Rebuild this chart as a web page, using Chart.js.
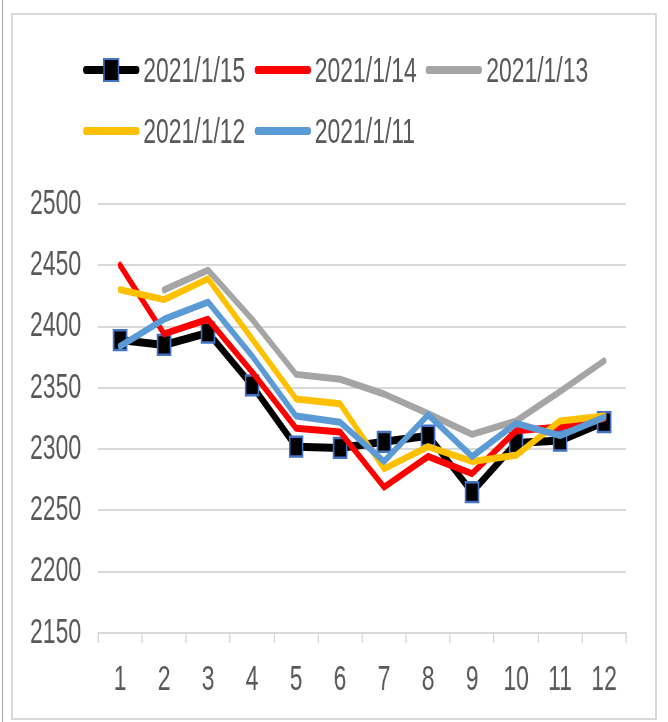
<!DOCTYPE html>
<html>
<head>
<meta charset="utf-8">
<script src="https://cdn.jsdelivr.net/npm/chart.js@4.4.1/dist/chart.umd.min.js"></script>
<style>
  html, body { margin: 0; padding: 0; background: #fff; }
  body { width: 668px; height: 722px; position: relative; overflow: hidden; font-family: "Liberation Sans", Arial, sans-serif; }
  #edge { position: absolute; left: 2px; top: 0; width: 1px; height: 722px; background: #a6a6a6; }
  #frame { position: absolute; left: 11px; top: 13px; width: 642px; height: 703px; border: 2px solid #d9d9d9; overflow: hidden; }
  /* the source picture is squeezed sideways, so the whole chart is drawn wide and scaled down */
  #squeeze { position: absolute; left: 0; top: 0; width: 980px; height: 703px; transform: scaleX(0.655); transform-origin: 0 0; }
  #legend { position: absolute; left: 107px; top: 34px; width: 800px; display: flex; flex-wrap: wrap; row-gap: 19px; }
  #legend .item { display: flex; align-items: center; margin-right: 14px; height: 42px; }
  #legend .swatch { position: relative; display: inline-block; width: 86px; height: 8px; border-radius: 4px; margin-right: 6px; }
  #legend .mark { position: absolute; left: 50%; top: 50%; width: 20px; height: 20px; border: 2px solid; transform: translate(-50%, -50%); }
  #legend .label { font-size: 35px; line-height: 42px; color: #595959; white-space: nowrap; }
  #myChart { position: absolute; left: 0; top: 0; }
</style>
</head>
<body>
<div id="edge"></div>
<div id="frame">
  <div id="squeeze">
    <canvas id="myChart" width="980" height="703"></canvas>
    <div id="legend"></div>
  </div>
</div>
<script>
// data block
const categories = ["1", "2", "3", "4", "5", "6", "7", "8", "9", "10", "11", "12"];
const seriesNames = ["2021/1/15", "2021/1/14", "2021/1/13", "2021/1/12", "2021/1/11"];
const jan15 = [2389, 2385, 2395, 2352, 2302, 2301, 2306, 2311, 2265, 2305, 2307, 2322];
const jan14 = [2450, 2394, 2406, 2363, 2317, 2314, 2269, 2294, 2280, 2315, 2318, 2325];
const jan13 = [null, 2430, 2446, 2406, 2361, 2357, 2345, 2329, 2312, 2323, 2347, 2372];
const jan12 = [2430, 2422, 2439, 2390, 2341, 2337, 2284, 2302, 2290, 2295, 2323, 2327];
const jan11 = [2384, 2406, 2420, 2376, 2327, 2322, 2290, 2328, 2294, 2321, 2311, 2326];
const yTickValues = [2150, 2200, 2250, 2300, 2350, 2400, 2450, 2500];

const textColor = "#595959";
const gridColor = "#d9d9d9";

Chart.defaults.font.family = "'Liberation Sans', Arial, sans-serif";
Chart.defaults.font.size = 35;
Chart.defaults.color = textColor;

function lineSet(label, values, color, order) {
  return {
    label: label,
    data: values,
    borderColor: color,
    backgroundColor: color,
    borderWidth: 7,
    borderCapStyle: "round",
    borderJoinStyle: "round",
    pointRadius: 0,
    pointHoverRadius: 0,
    tension: 0,
    order: order,
  };
}

// first series carries the square markers
const first = lineSet(seriesNames[0], jan15, "#000000", 5);
first.borderWidth = 8;
first.pointStyle = "rect";
first.pointRadius = 14;
first.pointHoverRadius = 14;
first.pointBackgroundColor = "#000000";
first.pointBorderColor = "#4472c4";
first.pointBorderWidth = 2.5;

const data = {
  labels: categories,
  datasets: [
    first,
    lineSet(seriesNames[1], jan14, "#ff0000", 4),
    lineSet(seriesNames[2], jan13, "#a5a5a5", 3),
    lineSet(seriesNames[3], jan12, "#ffc000", 2),
    lineSet(seriesNames[4], jan11, "#5b9bd5", 1),
  ],
};

// html legend, built from the datasets
const htmlLegend = {
  id: "htmlLegend",
  afterUpdate(chart) {
    const box = document.getElementById("legend");
    box.innerHTML = "";
    chart.data.datasets.forEach((ds) => {
      const item = document.createElement("div");
      item.className = "item";
      const sw = document.createElement("span");
      sw.className = "swatch";
      sw.style.background = ds.borderColor;
      if (ds.pointRadius > 0) {
        const m = document.createElement("span");
        m.className = "mark";
        m.style.background = ds.pointBackgroundColor;
        m.style.borderColor = ds.pointBorderColor;
        sw.appendChild(m);
      }
      const t = document.createElement("span");
      t.className = "label";
      t.textContent = ds.label;
      item.appendChild(sw);
      item.appendChild(t);
      box.appendChild(item);
    });
  },
};

// config block
const config = {
  type: "line",
  data: data,
  options: {
    responsive: false,
    animation: false,
    layout: { padding: { left: 0, right: 44, top: 189, bottom: 1 } },
    plugins: {
      legend: { display: false },
      tooltip: { enabled: false },
    },
    scales: {
      x: {
        offset: true,
        grid: {
          offset: true,
          drawOnChartArea: false,
          drawTicks: true,
          tickLength: 10,
          color: gridColor,
          lineWidth: 2,
        },
        border: { display: true, color: gridColor, width: 2 },
        ticks: { padding: 16, maxRotation: 0, autoSkip: false, color: textColor },
      },
      y: {
        min: yTickValues[0],
        max: yTickValues[yTickValues.length - 1],
        afterBuildTicks: (axis) => {
          axis.ticks = yTickValues.map((v) => ({ value: v }));
        },
        grid: { drawTicks: false, color: gridColor, lineWidth: 2 },
        border: { display: false },
        ticks: { padding: 26, color: textColor, callback: (v) => String(v) },
      },
    },
  },
  plugins: [htmlLegend],
};

// render init block
const myChart = new Chart(document.getElementById("myChart"), config);
</script>
</body>
</html>
